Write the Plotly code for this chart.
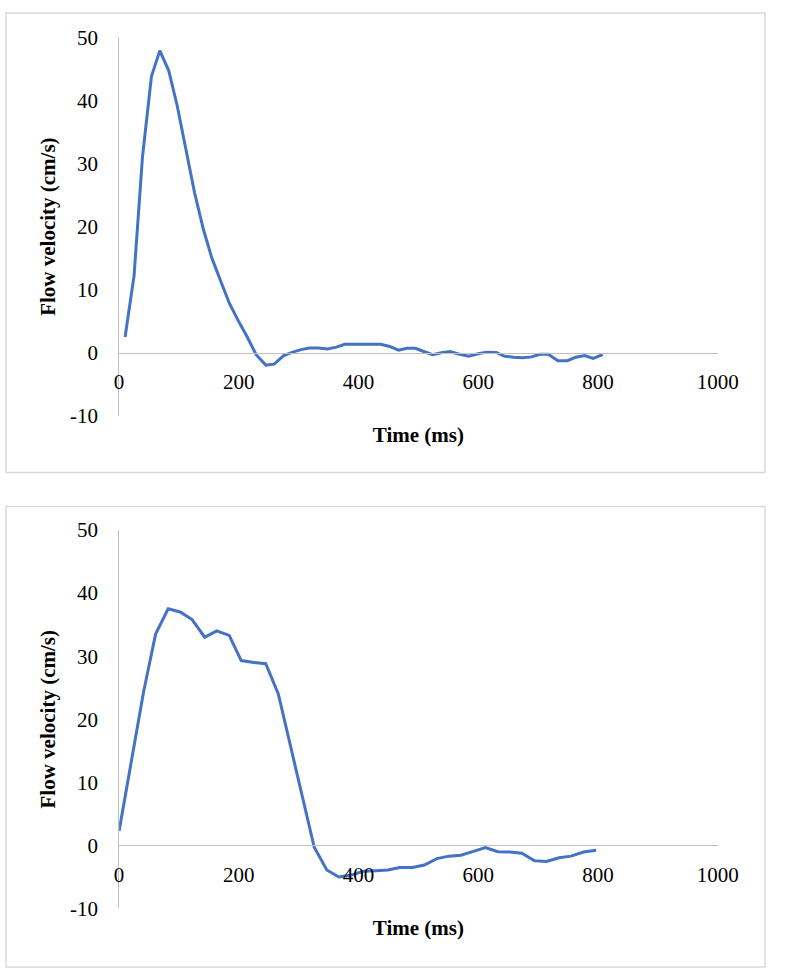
import plotly.graph_objects as go

# ---- data ----
time_top = [10, 25, 39, 54, 68, 83, 97, 112, 126, 141, 155, 170, 184, 199, 213, 229,
            245, 259, 275, 290, 304, 318, 333, 348, 363, 377, 391, 406, 420, 437,
            452, 467, 481, 495, 509, 524, 538, 553, 567, 584, 600, 614, 630, 644,
            659, 674, 689, 703, 717, 733, 749, 763, 778, 792, 808]
vel_top = [2.5, 12.2, 31.0, 43.8, 47.9, 44.7, 39.2, 32.0, 25.4, 19.5, 15.0, 11.3, 7.9,
           5.1, 2.7, -0.3, -1.95, -1.8, -0.45, 0.1, 0.5, 0.75, 0.75, 0.6, 0.9, 1.35,
           1.35, 1.35, 1.35, 1.35, 1.0, 0.4, 0.7, 0.7, 0.2, -0.3, 0.0, 0.2, -0.2,
           -0.55, -0.15, 0.1, 0.05, -0.55, -0.7, -0.8, -0.65, -0.25, -0.25, -1.25,
           -1.25, -0.7, -0.45, -0.9, -0.3]

time_bot = [0, 20, 41, 61, 82, 102, 122, 143, 163, 184, 204, 225, 245, 266, 286, 306,
            326, 347, 367, 388, 408, 429, 449, 469, 490, 510, 531, 551, 571, 592,
            612, 633, 653, 673, 694, 714, 735, 755, 776, 797]
vel_bot = [2.3, 12.8, 24.4, 33.5, 37.5, 37.0, 35.8, 33.0, 34.0, 33.3, 29.3, 29.0, 28.8,
           24.0, 16.0, 7.8, -0.3, -3.9, -5.0, -4.7, -4.1, -4.0, -3.9, -3.5, -3.5,
           -3.1, -2.1, -1.7, -1.55, -0.95, -0.35, -1.0, -1.05, -1.25, -2.45, -2.55,
           -1.95, -1.7, -1.05, -0.75]

x_ticks = [0, 200, 400, 600, 800, 1000]
y_ticks = [-10, 0, 10, 20, 30, 40, 50]
x_title = "Time (ms)"
y_title = "Flow velocity (cm/s)"

# ---- layout helpers ----
W, H = 787, 980
def py(px):
    return 1 - px / H

x_dom = [118 / W, 737 / W]
top_dom = [py(414), py(26)]
bot_dom = [py(919), py(531)]
y_rng = [-10, 50]

def zero_pos(dom):
    return dom[0] + (dom[1] - dom[0]) * (0 - y_rng[0]) / (y_rng[1] - y_rng[0])

FONT = "Liberation Serif, Times New Roman, serif"
LINE = "#4472C4"
AX = "#bfbfbf"

fig = go.Figure()
fig.add_trace(go.Scatter(x=time_top, y=vel_top, mode="lines",
                         line=dict(color=LINE, width=3), xaxis="x", yaxis="y",
                         showlegend=False, hoverinfo="skip"))
fig.add_trace(go.Scatter(x=time_bot, y=vel_bot, mode="lines",
                         line=dict(color=LINE, width=3), xaxis="x2", yaxis="y2",
                         showlegend=False, hoverinfo="skip"))

tickfont = dict(family=FONT, size=21, color="black")
titlefont = dict(family=FONT, size=21, color="black", weight="bold")

def xaxis(ydom, anchor_y):
    return dict(domain=x_dom, range=[0, 1000], tickvals=x_ticks,
                ticktext=[str(v) for v in x_ticks], anchor="free",
                position=zero_pos(ydom), showline=True, linecolor=AX, linewidth=1,
                showgrid=False, zeroline=False, ticks="", ticklabelstandoff=10,
                tickfont=tickfont, fixedrange=True,
                title=dict(text=x_title, font=titlefont, standoff=34))

def yaxis(dom, anchor_x):
    return dict(domain=dom, range=y_rng, tickvals=y_ticks,
                ticktext=[str(v) for v in y_ticks], anchor=anchor_x,
                showline=True, linecolor=AX, linewidth=1, showgrid=False,
                zeroline=False, ticks="", ticklabelstandoff=16, tickfont=tickfont,
                fixedrange=True,
                title=dict(text=y_title, font=titlefont, standoff=8))

fig.update_layout(
    width=W, height=H, margin=dict(l=0, r=0, t=0, b=0),
    paper_bgcolor="white", plot_bgcolor="white",
    xaxis=xaxis(top_dom, "y"), yaxis=yaxis(top_dom, "x"),
    xaxis2=xaxis(bot_dom, "y2"), yaxis2=yaxis(bot_dom, "x2"),
    shapes=[
        dict(type="rect", xref="paper", yref="paper", x0=1 / W, x1=1 - 1 / W,
             y0=py(472), y1=py(1), line=dict(color="#d9d9d9", width=1.5)),
        dict(type="rect", xref="paper", yref="paper", x0=1 / W, x1=1 - 1 / W,
             y0=py(979), y1=py(507), line=dict(color="#d9d9d9", width=1.5)),
    ],
)

fig.write_html("out.html",
               post_script="document.body.style.margin='0';"
                           "document.body.style.overflow='hidden';",
               config={"displayModeBar": False})
